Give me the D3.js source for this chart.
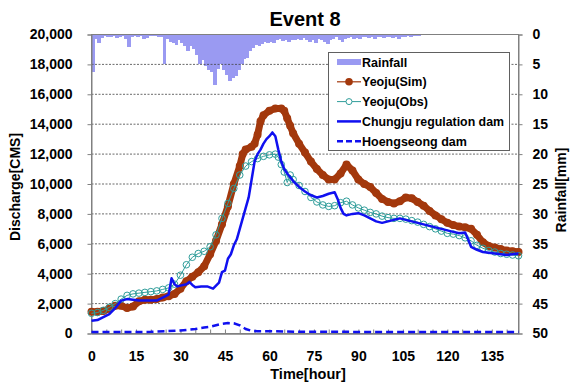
<!DOCTYPE html>
<html><head><meta charset="utf-8">
<script src="https://cdn.jsdelivr.net/npm/d3@7"></script>
<style>
body{margin:0;background:#fff}
text{font-family:Arial,"Liberation Sans",sans-serif;font-weight:bold;fill:#000}
</style>
</head><body>
<svg id="chart" width="570" height="382"></svg>
<script>
// ---------- data ----------
const xTicks = [0,15,30,45,60,75,90,105,120,135];
const yTicks = [0,2000,4000,6000,8000,10000,12000,14000,16000,18000,20000];
const rainTicks = [0,5,10,15,20,25,30,35,40,45,50];

// hourly rainfall (mm), hour = index
const rainfall = [6.3,0.8,1.5,0.6,0.3,0.5,0.4,0.3,0.6,0.4, 0.3,0.8,2.1,0.5,0.3,0.4,0.3,0.8,0.6,0.3,
  0.2,0.3,0.4,0.5,4.9,0.8,1.2,1.5,1.8,1.0, 1.4,2.0,2.7,1.9,2.5,3.4,4.9,4.3,5.2,6.0,
  6.3,8.5,5.8,5.0,5.9,6.8,7.7,7.3,7.0,6.0, 4.9,4.1,3.9,2.8,2.3,1.8,2.0,1.6,1.3,1.5,
  1.2,1.5,1.0,0.7,1.1,1.0,1.3,0.9,1.0,0.8, 1.0,0.6,0.9,1.2,1.0,1.5,0.8,1.0,1.3,1.6,
  0.9,0.7,0.5,0.9,1.3,0.8,0.6,0.5,0.7,0.6, 0.8,0.5,0.4,0.6,0.5,0.7,0.4,0.5,0.6,0.4,
  0.5,0.6,0.4,0.7,0.5,0.4,0.3,0.4,0.3,0.2, 0.2,0.1];

const simHours = [0,2,4,6,8,10,12,14,16,18,20,22,24,26,28,30,32,34,36,38,40,42,44,46,48,50,51,52,54,55,56,57,58,60,62,64,65,66,67,68,70,72,74,76,78,80,82,84,86,88,90,92,94,96,98,100,102,104,106,108,110,112,114,116,118,120,122,124,126,128,130,132,134,136,138,140,142,144];
const simValues = [1450,1450,1500,1650,1850,1850,1700,1800,2150,2250,2250,2300,2400,2500,2650,3000,3500,3800,4100,4500,5300,6200,7300,8500,10000,11200,12000,12300,12500,12700,13300,14200,14600,14900,15050,15050,14900,14400,13900,13400,12700,12100,11500,11000,10600,10300,10300,10700,11300,10900,10300,10000,9800,9400,9000,8800,8700,8850,9100,9050,8800,8550,8200,7900,7650,7400,7250,7150,7100,7000,6600,6100,5850,5750,5650,5550,5500,5450];

const obsHours = [0,2,4,6,8,10,12,14,16,18,20,22,24,26,28,30,32,34,36,38,40,42,44,46,48,50,52,54,56,58,60,62,63,64,65,66,67,68,70,72,74,76,78,80,82,84,86,88,90,92,94,96,98,100,102,104,106,108,110,112,114,116,118,120,122,124,126,128,130,132,134,136,138,140,142,144];
const obsValues = [1350,1400,1550,1750,2000,2300,2550,2650,2700,2750,2800,2850,2950,3050,3300,3900,4600,5100,5350,5500,5800,6600,7700,8700,9700,10600,11200,11500,11700,11850,11950,12000,11800,11300,10800,10100,10600,10300,9900,9500,9100,8800,8600,8500,8550,8750,8850,8600,8400,8250,8100,8000,7850,7750,7700,7700,7650,7550,7450,7300,7150,7000,6850,6700,6650,6550,6400,6200,5900,5700,5550,5450,5350,5300,5250,5200];

const chungjuHours = [0,2,4,6,8,10,12,14,16,18,20,22,24,26,27,28,29,30,32,33,34,35,37,39,41,42,43,44,45,46,47,48,49,50,51,52,53,54,55,56,57,58,59,60,61,62,63,64,65,66,68,70,72,74,76,78,80,82,83,84,85,86,88,90,92,94,96,98,100,102,104,106,108,110,112,114,116,118,120,122,124,126,127,128,130,132,134,136,138,140,142,144];
const chungjuValues = [850,900,1100,1300,1700,2200,2300,2250,2200,2200,2200,2200,2400,2600,3700,3300,3150,3200,3300,3450,3250,3100,3150,3150,3000,3200,3400,4100,4200,5000,5300,5900,6300,7000,7700,8400,9100,10300,11500,12000,12300,12700,13000,13200,13450,13200,12300,11500,11000,10700,10200,9800,9500,9250,9100,9200,9350,9450,9000,8400,8000,7900,8000,8050,7900,7700,7500,7400,7500,7600,7700,7600,7500,7400,7300,7200,7100,7000,6900,6800,6700,6750,6300,5800,5600,5450,5400,5350,5300,5250,5300,5350];

const hoengHours = [0,10,20,25,30,35,38,40,42,44,46,48,50,52,54,56,60,70,80,144];
const hoengValues = [100,100,110,150,200,300,400,450,550,650,700,680,550,300,180,150,150,120,110,100];

const legendLabels = ["Rainfall","Yeoju(Sim)","Yeoju(Obs)","Chungju regulation dam","Hoengseong dam"];

// ---------- chart ----------
const svg = d3.select("#chart");
const L = 91.5, R = 518.5, T = 34.5, B = 333.5;
const x = d3.scaleLinear().domain([0,144]).range([L,R]);
const y = d3.scaleLinear().domain([0,20000]).range([B,T]);
const yr = d3.scaleLinear().domain([0,50]).range([T,B]);

const cRain = "#9a9af2", cSim = "#a3380c", cObs = "#2f9d9a", cBlue = "#1010f0";

// rainfall bars hanging from top
const bw = x(1) - x(0);
svg.append("g").attr("shape-rendering", "crispEdges").selectAll("rect").data(rainfall).join("rect")
  .attr("x", (d,i) => x(i)).attr("y", T)
  .attr("width", bw + 0.8).attr("height", d => yr(d) - yr(0))
  .attr("fill", cRain);

// gridlines
svg.append("g").selectAll("line").data(yTicks.slice(1, -1)).join("line")
  .attr("x1", L).attr("x2", R).attr("y1", d => y(d)).attr("y2", d => y(d))
  .attr("stroke", "#444").attr("stroke-width", 0.8).attr("stroke-dasharray", "2,1.5");

// frame
svg.append("rect").attr("x", L).attr("y", T).attr("width", R-L).attr("height", B-T)
  .attr("fill", "none").attr("stroke", "#808080").attr("stroke-width", 1);

// axes
const fmt = d3.format(",");
const gl = svg.append("g").attr("transform", `translate(${L},0)`)
  .call(d3.axisLeft(y).tickValues(yTicks).tickSize(4).tickPadding(15).tickFormat(fmt));
const gr = svg.append("g").attr("transform", `translate(${R},0)`)
  .call(d3.axisRight(yr).tickValues(rainTicks).tickSize(4).tickPadding(10));
const gb = svg.append("g").attr("transform", `translate(0,${B})`)
  .call(d3.axisBottom(x).tickValues(xTicks).tickSize(0).tickPadding(18));
const gm = svg.append("g").attr("transform", `translate(0,${B})`)
  .call(d3.axisBottom(x).tickValues(d3.range(0, 145, 5)).tickSizeInner(-4).tickSizeOuter(0).tickFormat(""));
[gl, gr, gb, gm].forEach(g => {
  g.selectAll("path").attr("stroke", "#808080");
  g.selectAll("line").attr("stroke", "#808080");
  g.selectAll("text").style("font-size", "14px").style("font-family", "Arial, 'Liberation Sans', sans-serif").style("font-weight", "bold");
});

// Hoengseong dam (dashed)
const line = d3.line().x(d => x(d[0])).y(d => y(d[1]));
svg.append("path").datum(hoengHours.map((h,i) => [h, hoengValues[i]]))
  .attr("d", line).attr("fill", "none").attr("stroke", cBlue)
  .attr("stroke-width", 2.5).attr("stroke-dasharray", "7,4");

// Yeoju(Sim)
const simData = simHours.map((h,i) => [h, simValues[i]]);
svg.append("path").datum(simData).attr("d", line).attr("fill", "none")
  .attr("stroke", cSim).attr("stroke-width", 7).attr("stroke-linejoin", "round").attr("stroke-linecap", "round");
svg.append("g").selectAll("circle").data(simData).join("circle")
  .attr("cx", d => x(d[0])).attr("cy", d => y(d[1])).attr("r", 4).attr("fill", cSim);

// Yeoju(Obs)
const obsData = obsHours.map((h,i) => [h, obsValues[i]]);
svg.append("path").datum(obsData).attr("d", line).attr("fill", "none")
  .attr("stroke", cObs).attr("stroke-width", 1);
svg.append("g").selectAll("circle").data(obsData).join("circle")
  .attr("cx", d => x(d[0])).attr("cy", d => y(d[1])).attr("r", 3.3)
  .attr("fill", "none").attr("stroke", cObs).attr("stroke-width", 1);

// Chungju regulation dam
svg.append("path").datum(chungjuHours.map((h,i) => [h, chungjuValues[i]]))
  .attr("d", line).attr("fill", "none").attr("stroke", cBlue).attr("stroke-width", 2.5)
  .attr("stroke-linejoin", "round");

// titles
svg.append("text").attr("x", 305).attr("y", 26).attr("text-anchor", "middle")
  .style("font-size", "20px").text("Event 8");
svg.append("text").attr("transform", "translate(20,187) rotate(-90)").attr("text-anchor", "middle")
  .style("font-size", "14px").text("Discharge[CMS]");
svg.append("text").attr("transform", "translate(566,190) rotate(-90)").attr("text-anchor", "middle")
  .style("font-size", "14px").text("Rainfall[mm]");
svg.append("text").attr("x", 308).attr("y", 379).attr("text-anchor", "middle")
  .style("font-size", "14.5px").text("Time[hour]");

// legend
const lg = svg.append("g");
lg.append("rect").attr("x", 328.5).attr("y", 52.5).attr("width", 181).attr("height", 98)
  .attr("fill", "#fff").attr("stroke", "#606060").attr("stroke-width", 1);
const ly = i => 62 + i * 19.8;
const sx1 = 337, sx2 = 361, sxm = 349;
lg.append("line").attr("x1", sx1).attr("x2", sx2).attr("y1", ly(0)).attr("y2", ly(0))
  .attr("stroke", cRain).attr("stroke-width", 6);
lg.append("line").attr("x1", sx1).attr("x2", sx2).attr("y1", ly(1)).attr("y2", ly(1))
  .attr("stroke", cSim).attr("stroke-width", 1.2);
lg.append("circle").attr("cx", sxm).attr("cy", ly(1)).attr("r", 3.8).attr("fill", cSim);
lg.append("line").attr("x1", sx1).attr("x2", sx2).attr("y1", ly(2)).attr("y2", ly(2))
  .attr("stroke", cObs).attr("stroke-width", 1);
lg.append("circle").attr("cx", sxm).attr("cy", ly(2)).attr("r", 3).attr("fill", "#fff")
  .attr("stroke", cObs).attr("stroke-width", 1);
lg.append("line").attr("x1", sx1).attr("x2", sx2).attr("y1", ly(3)).attr("y2", ly(3))
  .attr("stroke", cBlue).attr("stroke-width", 2.5);
lg.append("line").attr("x1", sx1).attr("x2", sx2).attr("y1", ly(4)).attr("y2", ly(4))
  .attr("stroke", cBlue).attr("stroke-width", 2.5).attr("stroke-dasharray", "6,3");
lg.selectAll("text.lab").data(legendLabels).join("text").attr("class", "lab")
  .attr("x", 362).attr("y", (d,i) => ly(i)).attr("dy", "0.36em")
  .style("font-size", "12.5px").text(d => d)
  .each(function() {
    const w = this.getComputedTextLength();
    if (w > 142) d3.select(this).attr("textLength", 142).attr("lengthAdjust", "spacingAndGlyphs");
  });
</script>
</body></html>
